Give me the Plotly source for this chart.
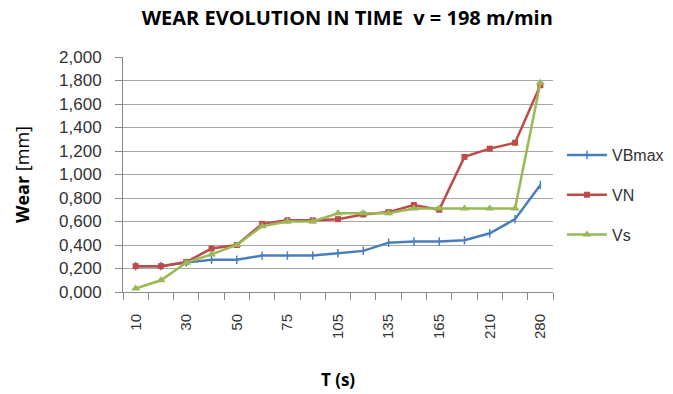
import plotly.graph_objects as go

t_cats = ["10", "20", "30", "40", "50", "60", "75", "90", "105", "120", "135",
          "150", "165", "190", "210", "245", "280"]
shown_labels = ["10", "30", "50", "75", "105", "135", "165", "210", "280"]

vbmax = [0.22, 0.22, 0.25, 0.275, 0.275, 0.31, 0.31, 0.31, 0.33, 0.35, 0.42,
         0.43, 0.43, 0.44, 0.50, 0.62, 0.91]
vn = [0.22, 0.22, 0.255, 0.37, 0.40, 0.58, 0.61, 0.61, 0.62, 0.66, 0.68,
      0.74, 0.70, 1.15, 1.22, 1.27, 1.76]
vs = [0.03, 0.10, 0.25, 0.32, 0.40, 0.56, 0.60, 0.60, 0.67, 0.67, 0.67,
      0.71, 0.71, 0.71, 0.71, 0.71, 1.78]

y_ticks = [0, 0.2, 0.4, 0.6, 0.8, 1.0, 1.2, 1.4, 1.6, 1.8, 2.0]

fig = go.Figure()
fig.add_trace(go.Scatter(x=t_cats, y=vbmax, name="VBmax", mode="lines+markers",
                         legendgroup="a",
                         line=dict(color="#4a7ebb", width=2.5),
                         marker=dict(symbol="line-ns", size=6,
                                     line=dict(color="#4a7ebb", width=1.5))))
fig.add_trace(go.Scatter(x=t_cats, y=vn, name="VN", mode="lines+markers",
                         legendgroup="b",
                         line=dict(color="#be4b48", width=2.5),
                         marker=dict(symbol="square", size=6, color="#be4b48")))
fig.add_trace(go.Scatter(x=t_cats, y=vs, name="Vs", mode="lines+markers",
                         legendgroup="c",
                         line=dict(color="#98b954", width=2.5),
                         marker=dict(symbol="triangle-up", size=8, color="#98b954")))

fig.update_layout(
    width=673, height=394,
    margin=dict(l=123, r=120, t=57, b=102),
    paper_bgcolor="white", plot_bgcolor="white",
    separators=",.",
    font=dict(family="Liberation Sans, Arial, sans-serif", size=15, color="#333"),
    title=dict(text="<b>WEAR EVOLUTION IN TIME  v = 198 m/min</b>",
               x=0.516, xanchor="center", y=0.955, yanchor="middle",
               font=dict(family="Open Sans, sans-serif", size=20, color="black")),
    legend=dict(xref="container", x=0.835, xanchor="left",
                yref="container", y=0.505, yanchor="middle",
                font=dict(size=16, color="#333"), tracegroupgap=16,
                itemwidth=40),
    showlegend=True,
)
fig.update_xaxes(
    type="category", range=[-0.5, 16.5], automargin=False,
    tickmode="array", tickvals=t_cats,
    ticktext=[c if c in shown_labels else "" for c in t_cats],
    tickangle=-90, tickson="boundaries", ticks="outside", ticklen=7,
    ticklabelstandoff=15,
    tickcolor="#888", showline=True, linecolor="#888", linewidth=1,
    showgrid=False, tickfont=dict(size=15),
    title=dict(text="<b>T (s)</b>", font=dict(family="Open Sans, sans-serif",
                                             size=17, color="black"), standoff=36),
)
fig.update_yaxes(
    range=[0, 2.0], tickmode="array", tickvals=y_ticks, tickformat=".3f",
    automargin=False,
    ticks="outside", ticklen=7, tickcolor="#888", ticklabelstandoff=10,
    showline=True, linecolor="#888", linewidth=1, tickfont=dict(size=17),
    showgrid=True, gridcolor="#a6a6a6", gridwidth=1, zeroline=False,
    title=dict(text="<b>Wear</b> [mm]", font=dict(family="Open Sans, sans-serif",
                                                 size=18, color="black"), standoff=24),
)

fig.write_html("out.html")
